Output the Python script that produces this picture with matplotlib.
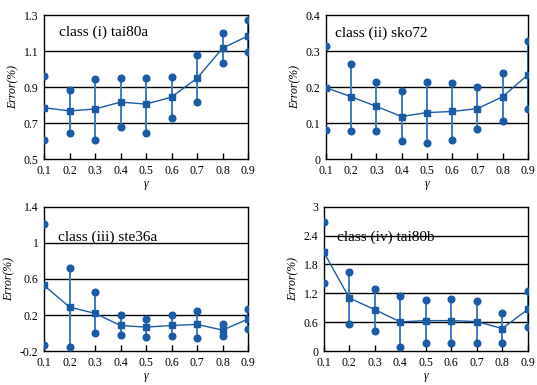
import matplotlib
matplotlib.use("Agg")
import matplotlib.pyplot as plt
import numpy as np

plt.rcParams['font.family'] = ['Liberation Serif', 'DejaVu Serif']

gamma = [0.1, 0.2, 0.3, 0.4, 0.5, 0.6, 0.7, 0.8, 0.9]

# class (i) tai80a
tai80a_mean = [0.785, 0.767, 0.778, 0.816, 0.805, 0.844, 0.949, 1.116, 1.184]
tai80a_hi = [0.960, 0.883, 0.943, 0.952, 0.952, 0.958, 1.076, 1.200, 1.272]
tai80a_lo = [0.607, 0.643, 0.607, 0.677, 0.643, 0.728, 0.816, 1.031, 1.096]

# class (ii) sko72
sko72_mean = [0.198, 0.173, 0.146, 0.118, 0.129, 0.132, 0.140, 0.173, 0.234]
sko72_hi = [0.315, 0.264, 0.214, 0.190, 0.215, 0.210, 0.200, 0.240, 0.329]
sko72_lo = [0.081, 0.079, 0.077, 0.049, 0.045, 0.054, 0.082, 0.106, 0.138]

# class (iii) ste36a
ste36a_mean = [0.528, 0.288, 0.218, 0.084, 0.066, 0.084, 0.096, 0.033, 0.155]
ste36a_hi = [1.204, 0.716, 0.450, 0.203, 0.151, 0.195, 0.240, 0.103, 0.262]
ste36a_lo = [-0.137, -0.152, -0.004, -0.026, -0.049, -0.034, -0.060, -0.034, 0.040]

# class (iv) tai80b
tai80b_mean = [2.055, 1.103, 0.862, 0.607, 0.634, 0.634, 0.614, 0.469, 0.869]
tai80b_hi = [2.683, 1.648, 1.297, 1.152, 1.069, 1.090, 1.048, 0.800, 1.255]
tai80b_lo = [1.421, 0.572, 0.428, 0.076, 0.172, 0.172, 0.172, 0.159, 0.497]

panels = [
    ("class (i) tai80a", tai80a_mean, tai80a_hi, tai80a_lo,
     [0.5, 0.7, 0.9, 1.1, 1.3], ["0.5", "0.7", "0.9", "1.1", "1.3"],
     [0.082, 0.587, 0.380, 0.374], (0.074, 0.88)),
    ("class (ii) sko72", sko72_mean, sko72_hi, sko72_lo,
     [0, 0.1, 0.2, 0.3, 0.4], ["0", "0.1", "0.2", "0.3", "0.4"],
     [0.607, 0.587, 0.376, 0.374], (0.045, 0.875)),
    ("class (iii) ste36a", ste36a_mean, ste36a_hi, ste36a_lo,
     [-0.2, 0.2, 0.6, 1.0, 1.4], ["-0.2", "0.2", "0.6", "1", "1.4"],
     [0.082, 0.088, 0.380, 0.375], (0.069, 0.79)),
    ("class (iv) tai80b", tai80b_mean, tai80b_hi, tai80b_lo,
     [0, 0.6, 1.2, 1.8, 2.4, 3.0], ["0", "0.6", "1.2", "1.8", "2.4", "3"],
     [0.603, 0.088, 0.380, 0.375], (0.064, 0.79)),
]

blue = '#1a5aa6'
bar_blue = '#3b7cc4'

fig = plt.figure(figsize=(5.37, 3.85), dpi=100)

for title, mean, hi, lo, yt, ytl, pos, tpos in panels:
    ax = fig.add_axes(pos)
    for t in yt[1:-1]:
        ax.axhline(t, color='black', lw=1.0, zorder=1)
    ax.vlines(gamma, lo, hi, color=bar_blue, lw=1.4, zorder=2)
    ax.plot(gamma, hi, 'o', color=blue, ms=4.8, zorder=3)
    ax.plot(gamma, lo, 'o', color=blue, ms=4.8, zorder=3)
    ax.plot(gamma, mean, '-s', color=blue, ms=5, lw=1.0, zorder=4)
    ax.set_xlim(0.1, 0.9)
    ax.set_ylim(yt[0], yt[-1])
    ax.set_xticks(gamma)
    ax.set_xticklabels([str(g) for g in gamma])
    ax.set_yticks(yt)
    ax.set_yticklabels(ytl)
    ax.tick_params(axis='x', direction='in', length=4, width=1, labelsize=8.5, pad=4)
    ax.tick_params(axis='y', length=0, labelsize=8.5, pad=4)
    for s in ax.spines.values():
        s.set_linewidth(1.0)
        s.set_color('black')
    ax.set_ylabel('Error(%)', fontstyle='italic', fontsize=8.5, labelpad=3)
    ax.set_xlabel('γ', fontstyle='italic', fontsize=8.5, labelpad=1)
    ax.text(tpos[0], tpos[1], title, transform=ax.transAxes,
            fontsize=11, va='center', ha='left', zorder=5)

fig.savefig('out.png', dpi=100)
